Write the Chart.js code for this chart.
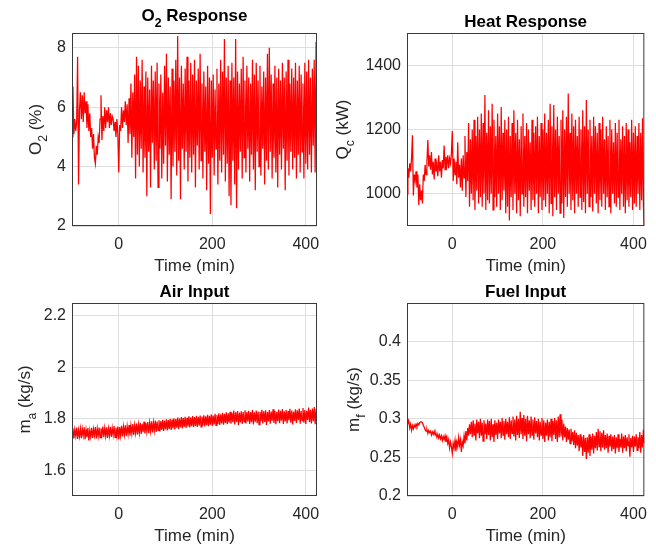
<!DOCTYPE html>
<html>
<head>
<meta charset="utf-8">
<script src="https://cdn.jsdelivr.net/npm/chart.js@4.4.1/dist/chart.umd.min.js"></script>
<style>
  body { margin: 0; background: #fff; }
  #wrap { position: relative; width: 656px; height: 552px; background: #fff; }
  #wrap canvas { position: absolute; }
</style>
</head>
<body>
<div id="wrap">
  <canvas id="o2Chart" width="330" height="276" style="left:0;top:0"></canvas>
  <canvas id="heatChart" width="326" height="276" style="left:330px;top:0"></canvas>
  <canvas id="airChart" width="330" height="276" style="left:0;top:276px"></canvas>
  <canvas id="fuelChart" width="326" height="276" style="left:330px;top:276px"></canvas>
</div>
<script>
// sampling of the logged series (min)
const tStart = -100;
const tStep = 2;

const timeTicks = [0, 200, 400];
const o2Ticks = [2, 4, 6, 8];
const heatTicks = [1000, 1200, 1400];
const airTicks = [1.6, 1.8, 2, 2.2];
const fuelTicks = [0.2, 0.25, 0.3, 0.35, 0.4];

// O2 (%)
const o2 = [
  5.0, 6.7, 5.1, 5.6, 5.2, 5.5, 7.7, 3.4, 5.9, 6.5,
  5.6, 6.4, 5.5, 6.5, 5.8, 6.2, 5.3, 6.1, 5.2, 5.8,
  5.0, 5.3, 4.6, 5.1, 4.3, 4.1, 4.7, 4.4, 5.0, 4.8,
  5.6, 6.4, 4.9, 5.7, 5.2, 6.0, 5.3, 5.9, 5.5, 6.0,
  5.3, 5.8, 5.4, 5.7, 5.6, 5.2, 5.5, 5.0, 5.6, 5.1,
  3.8, 5.4, 5.2, 6.0, 5.3, 5.9, 5.5, 6.2, 5.4, 6.1,
  4.8, 6.3, 5.1, 6.8, 4.3, 6.5, 5.0, 7.1, 3.6, 7.7,
  4.4, 7.4, 4.0, 6.9, 4.6, 7.6, 3.8, 6.7, 4.3, 7.2,
  3.0, 7.0, 4.5, 6.6, 3.3, 7.4, 4.8, 6.9, 3.9, 7.2,
  4.2, 7.5, 3.3, 6.8, 4.6, 7.1, 3.6, 6.5, 4.1, 7.4,
  4.7, 7.8, 3.5, 7.0, 4.4, 6.7, 2.9, 7.3, 4.0, 6.9,
  4.5, 7.6, 3.7, 8.4, 4.2, 7.0, 2.9, 7.4, 4.6, 6.8,
  3.9, 7.3, 4.5, 7.7, 3.5, 6.9, 4.3, 7.5, 3.8, 7.1,
  4.4, 7.6, 3.3, 6.9, 4.7, 7.3, 3.9, 7.8, 4.2, 6.8,
  3.6, 7.2, 4.5, 6.7, 3.2, 7.4, 4.1, 7.0, 2.4, 6.9,
  4.3, 7.1, 3.7, 6.6, 4.6, 7.3, 3.4, 6.8, 4.2, 7.6,
  3.8, 7.2, 4.4, 8.3, 3.5, 7.0, 4.1, 7.4, 3.0, 6.9,
  2.7, 7.5, 4.2, 7.0, 3.4, 8.3, 2.6, 7.2, 3.9, 6.8,
  4.5, 7.3, 3.6, 7.7, 4.3, 6.9, 3.8, 7.4, 4.6, 7.0,
  3.5, 6.8, 4.4, 7.6, 3.9, 7.1, 3.2, 7.5, 4.5, 6.9,
  4.0, 7.4, 3.7, 6.7, 4.6, 7.2, 3.4, 7.0, 4.2, 7.8,
  3.9, 8.0, 4.5, 7.1, 3.6, 6.8, 4.3, 7.4, 3.8, 7.0,
  3.3, 7.3, 4.4, 6.9, 3.9, 7.5, 4.6, 7.0, 3.2, 7.2,
  4.2, 7.6, 3.7, 6.8, 4.5, 7.3, 3.9, 7.0, 4.3, 7.5,
  3.6, 6.9, 4.4, 7.4, 3.8, 7.1, 4.5, 6.8, 3.6, 7.5,
  4.1, 7.2, 3.9, 7.6, 4.4, 7.0, 3.8, 7.3, 4.7, 7.6,
  3.8, 8.2, 6.0
];

// Qc (kW)
const heat = [
  1000, 1080, 1050, 1095, 1070, 1110, 1182, 995, 1060, 1040,
  1070, 1020, 1060, 965, 1030, 980, 1010, 970, 1060, 1040,
  1090, 1060, 1100, 1167, 1085, 1120, 1075, 1130, 1060, 1100,
  1045, 1110, 1070, 1090, 1055, 1120, 1070, 1100, 1050, 1105,
  1080, 1150, 1075, 1115, 1090, 1120, 1080, 1110, 1095, 1125,
  1195, 1040, 1110, 1060, 1100, 1030, 1160, 1050, 1090, 1020,
  1110, 1010, 1120, 1050, 1180, 990, 1130, 1040, 1220, 960,
  1170, 1000, 1200, 980, 1230, 950, 1180, 1010, 1240, 970,
  1200, 990, 1250, 960, 1220, 1000, 1307, 950, 1190, 980,
  1260, 970, 1210, 1000, 1280, 950, 1230, 990, 1180, 960,
  1250, 1000, 1210, 950, 1270, 980, 1190, 1010, 1230, 940,
  1200, 960, 1240, 917, 1180, 990, 1220, 950, 1260, 1000,
  1190, 940, 1230, 980, 1170, 930, 1210, 1000, 1250, 960,
  1180, 990, 1220, 940, 1200, 1010, 1160, 950, 1230, 980,
  1190, 960, 1210, 1000, 1240, 940, 1180, 990, 1220, 950,
  1200, 980, 1250, 960, 1190, 1000, 1230, 940, 1280, 970,
  1210, 930, 1276, 990, 1200, 950, 1240, 1000, 1180, 940,
  1230, 970, 1260, 925, 1200, 990, 1240, 960, 1312, 1000,
  1190, 950, 1250, 980, 1210, 940, 1230, 1000, 1180, 960,
  1240, 990, 1200, 950, 1260, 975, 1210, 940, 1292, 1000,
  1200, 960, 1230, 990, 1180, 945, 1240, 1000, 1210, 970,
  1190, 940, 1220, 980, 1200, 960, 1240, 1000, 1170, 950,
  1210, 990, 1180, 960, 1230, 940, 1200, 1000, 1160, 970,
  1220, 960, 1190, 990, 1230, 950, 1170, 1000, 1210, 960,
  1180, 940, 1220, 980, 1200, 960, 1160, 990, 1230, 950,
  1190, 970, 1210, 960, 1180, 1000, 1220, 950, 1190, 980,
  1235, 960, 900
];

// ma (kg/s)
const air = [
  1.727, 1.763, 1.724, 1.758, 1.733, 1.766, 1.722, 1.757, 1.731, 1.762,
  1.725, 1.761, 1.734, 1.767, 1.721, 1.758, 1.729, 1.764, 1.716, 1.755,
  1.730, 1.765, 1.726, 1.760, 1.735, 1.768, 1.724, 1.762, 1.732, 1.766,
  1.727, 1.763, 1.736, 1.770, 1.729, 1.764, 1.733, 1.767, 1.726, 1.762,
  1.734, 1.769, 1.730, 1.765, 1.737, 1.772, 1.728, 1.766, 1.733, 1.770,
  1.721, 1.768, 1.735, 1.773, 1.731, 1.770, 1.738, 1.775, 1.733, 1.771,
  1.740, 1.776, 1.734, 1.774, 1.742, 1.780, 1.737, 1.775, 1.744, 1.782,
  1.739, 1.778, 1.745, 1.784, 1.741, 1.781, 1.748, 1.789, 1.743, 1.783,
  1.750, 1.787, 1.745, 1.784, 1.752, 1.790, 1.747, 1.786, 1.754, 1.793,
  1.749, 1.789, 1.755, 1.794, 1.751, 1.791, 1.757, 1.796, 1.753, 1.793,
  1.759, 1.798, 1.755, 1.795, 1.761, 1.800, 1.757, 1.797, 1.763, 1.802,
  1.759, 1.799, 1.765, 1.805, 1.761, 1.801, 1.767, 1.807, 1.763, 1.803,
  1.768, 1.808, 1.764, 1.804, 1.770, 1.810, 1.766, 1.806, 1.771, 1.811,
  1.767, 1.807, 1.772, 1.812, 1.768, 1.808, 1.773, 1.813, 1.769, 1.809,
  1.774, 1.814, 1.770, 1.810, 1.775, 1.816, 1.771, 1.812, 1.777, 1.817,
  1.772, 1.813, 1.778, 1.819, 1.774, 1.815, 1.780, 1.821, 1.776, 1.817,
  1.782, 1.823, 1.777, 1.819, 1.784, 1.825, 1.779, 1.821, 1.785, 1.827,
  1.781, 1.823, 1.787, 1.832, 1.778, 1.825, 1.788, 1.830, 1.776, 1.824,
  1.786, 1.829, 1.780, 1.826, 1.788, 1.833, 1.782, 1.827, 1.790, 1.831,
  1.780, 1.826, 1.787, 1.834, 1.778, 1.825, 1.789, 1.832, 1.783, 1.828,
  1.777, 1.827, 1.791, 1.835, 1.782, 1.829, 1.788, 1.833, 1.776, 1.826,
  1.790, 1.834, 1.781, 1.828, 1.792, 1.837, 1.784, 1.830, 1.779, 1.827,
  1.791, 1.836, 1.783, 1.831, 1.793, 1.838, 1.780, 1.829, 1.790, 1.834,
  1.782, 1.830, 1.794, 1.839, 1.785, 1.832, 1.778, 1.828, 1.792, 1.837,
  1.784, 1.833, 1.795, 1.840, 1.781, 1.830, 1.793, 1.842, 1.785, 1.834,
  1.780, 1.831, 1.796, 1.844, 1.787, 1.835, 1.782, 1.840, 1.791, 1.846,
  1.779, 1.838, 1.794
];

// mf (kg/s)
const fuel = [
  0.300, 0.294, 0.297, 0.288, 0.293, 0.285, 0.291, 0.287, 0.292, 0.289,
  0.293, 0.290, 0.294, 0.292, 0.295, 0.296, 0.296, 0.295, 0.292, 0.289,
  0.286, 0.284, 0.286, 0.281, 0.285, 0.282, 0.284, 0.279, 0.283, 0.280,
  0.284, 0.279, 0.281, 0.276, 0.280, 0.275, 0.279, 0.274, 0.278, 0.272,
  0.277, 0.273, 0.278, 0.270, 0.276, 0.268, 0.273, 0.262, 0.270, 0.264,
  0.255, 0.268, 0.262, 0.272, 0.258, 0.270, 0.264, 0.276, 0.266, 0.273,
  0.257, 0.270, 0.265, 0.278, 0.268, 0.284, 0.272, 0.288, 0.278, 0.293,
  0.280, 0.296, 0.276, 0.298, 0.279, 0.294, 0.272, 0.299, 0.281, 0.296,
  0.275, 0.300, 0.278, 0.295, 0.271, 0.298, 0.280, 0.294, 0.274, 0.299,
  0.279, 0.297, 0.272, 0.300, 0.276, 0.293, 0.270, 0.298, 0.279, 0.295,
  0.274, 0.299, 0.281, 0.296, 0.275, 0.301, 0.279, 0.297, 0.273, 0.300,
  0.280, 0.296, 0.276, 0.302, 0.274, 0.298, 0.281, 0.303, 0.277, 0.299,
  0.272, 0.304, 0.279, 0.300, 0.275, 0.309, 0.280, 0.301, 0.274, 0.305,
  0.278, 0.300, 0.271, 0.304, 0.280, 0.298, 0.275, 0.303, 0.279, 0.299,
  0.273, 0.302, 0.281, 0.297, 0.276, 0.300, 0.272, 0.296, 0.279, 0.301,
  0.274, 0.298, 0.270, 0.295, 0.278, 0.299, 0.272, 0.296, 0.276, 0.300,
  0.271, 0.297, 0.279, 0.301, 0.274, 0.298, 0.270, 0.303, 0.276, 0.306,
  0.277, 0.299, 0.272, 0.294, 0.276, 0.290, 0.270, 0.288, 0.273, 0.286,
  0.268, 0.287, 0.271, 0.283, 0.266, 0.285, 0.262, 0.282, 0.265, 0.279,
  0.258, 0.280, 0.263, 0.277, 0.252, 0.279, 0.257, 0.275, 0.248, 0.276,
  0.256, 0.280, 0.252, 0.277, 0.260, 0.281, 0.255, 0.278, 0.262, 0.283,
  0.259, 0.287, 0.264, 0.284, 0.258, 0.282, 0.263, 0.285, 0.260, 0.279,
  0.262, 0.281, 0.256, 0.278, 0.264, 0.280, 0.258, 0.277, 0.261, 0.279,
  0.255, 0.276, 0.262, 0.280, 0.257, 0.274, 0.263, 0.281, 0.256, 0.277,
  0.262, 0.279, 0.258, 0.276, 0.265, 0.280, 0.251, 0.275, 0.263, 0.278,
  0.257, 0.277, 0.264, 0.280, 0.259, 0.276, 0.262, 0.283, 0.256, 0.279,
  0.263, 0.286, 0.268
];

Chart.defaults.font.family = "'Liberation Sans', Arial, sans-serif";
Chart.defaults.color = '#262626';

// draws text with subscript parts, centred on (x, y)
function drawRich(ctx, parts, x, y, size, bold) {
  const w = bold ? 'bold ' : '';
  let total = 0;
  parts.forEach(p => {
    ctx.font = w + (p.sub ? size * 0.72 : size) + "px 'Liberation Sans', Arial, sans-serif";
    p.w = ctx.measureText(p.t).width;
    total += p.w;
  });
  let cx = x - total / 2;
  ctx.textAlign = 'left';
  ctx.textBaseline = 'alphabetic';
  parts.forEach(p => {
    ctx.font = w + (p.sub ? size * 0.72 : size) + "px 'Liberation Sans', Arial, sans-serif";
    ctx.fillText(p.t, cx, p.sub ? y + size * 0.33 : y);
    cx += p.w;
  });
}

const matlabAxes = {
  id: 'matlabAxes',
  afterDraw(chart, args, o) {
    const { ctx, chartArea: a } = chart;
    ctx.save();
    ctx.strokeStyle = '#3a3a3a';
    ctx.lineWidth = 1;
    ctx.strokeRect(a.left + 0.5, a.top + 0.5, a.width - 1, a.height - 1);
    ctx.fillStyle = '#000';
    const mid = (a.left + a.right) / 2;
    drawRich(ctx, o.title, mid, a.top - o.titleGap, 17, true);
    ctx.fillStyle = '#262626';
    drawRich(ctx, [{ t: 'Time (min)' }], mid, a.bottom + 45, 17, false);
    ctx.translate(a.left - o.yTitleGap, (a.top + a.bottom) / 2);
    ctx.rotate(-Math.PI / 2);
    drawRich(ctx, o.yTitle, 0, 0, 17, false);
    ctx.restore();
  }
};

function makePanel(id, values, yMin, yMax, yTicks, pad, deco) {
  const pts = values.map((v, i) => ({ x: tStart + i * tStep, y: v }));
  new Chart(document.getElementById(id), {
    type: 'line',
    data: {
      datasets: [{
        data: pts,
        borderColor: '#ff0000',
        borderWidth: 1.25,
        pointRadius: 0,
        tension: 0,
        fill: false
      }]
    },
    options: {
      responsive: false,
      animation: false,
      events: [],
      layout: { padding: pad },
      plugins: { legend: { display: false }, tooltip: { enabled: false }, matlabAxes: deco },
      scales: {
        x: {
          type: 'linear',
          min: -100,
          max: 424,
          afterBuildTicks: s => { s.ticks = timeTicks.map(v => ({ value: v })); },
          afterFit: s => { s.height = 30; },
          grid: { color: '#dedede', drawTicks: false },
          border: { display: false },
          ticks: { autoSkip: false, maxRotation: 0, padding: 9, font: { size: 16 }, callback: v => String(v) }
        },
        y: {
          min: yMin,
          max: yMax,
          afterBuildTicks: s => { s.ticks = yTicks.map(v => ({ value: v })); },
          afterFit: s => { s.width = 40; },
          grid: { color: '#dedede', drawTicks: false },
          border: { display: false },
          ticks: { autoSkip: false, padding: 6, font: { size: 16 }, callback: v => String(v) }
        }
      }
    },
    plugins: [matlabAxes]
  });
}

makePanel('o2Chart', o2, 2, 8.5, o2Ticks,
  { left: 32, right: 13, top: 33, bottom: 20 },
  { title: [{ t: 'O' }, { t: '2', sub: true }, { t: ' Response' }], titleGap: 12, yTitle: [{ t: 'O' }, { t: '2', sub: true }, { t: ' (%)' }], yTitleGap: 31 });

makePanel('heatChart', heat, 900, 1500, heatTicks,
  { left: 37, right: 4, top: 33, bottom: 20 },
  { title: [{ t: 'Heat Response' }], titleGap: 6, yTitle: [{ t: 'Q' }, { t: 'c', sub: true }, { t: ' (kW)' }], yTitleGap: 59 });

makePanel('airChart', air, 1.5, 2.25, airTicks,
  { left: 32, right: 13, top: 27, bottom: 26 },
  { title: [{ t: 'Air Input' }], titleGap: 6, yTitle: [{ t: 'm' }, { t: 'a', sub: true }, { t: ' (kg/s)' }], yTitleGap: 42 });

makePanel('fuelChart', fuel, 0.2, 0.45, fuelTicks,
  { left: 37, right: 4, top: 27, bottom: 26 },
  { title: [{ t: 'Fuel Input' }], titleGap: 6, yTitle: [{ t: 'm' }, { t: 'f', sub: true }, { t: ' (kg/s)' }], yTitleGap: 48 });
</script>
</body>
</html>
